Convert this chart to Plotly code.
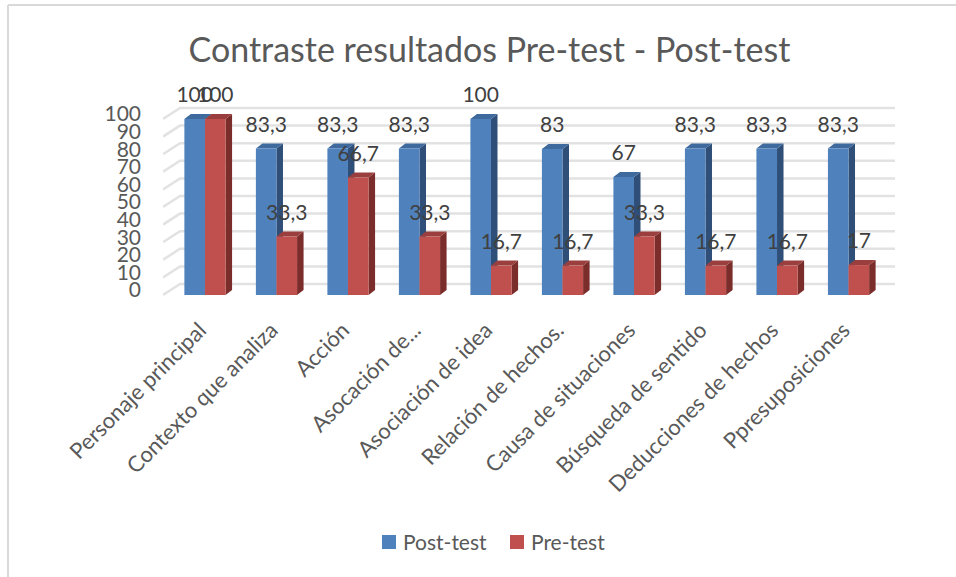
import plotly.graph_objects as go

categories = [
    "Personaje principal", "Contexto que analiza", "Acción", "Asocación de...",
    "Asociación de idea", "Relación de hechos.", "Causa de situaciones",
    "Búsqueda de sentido", "Deducciones de hechos", "Ppresuposiciones",
]
post_test = [100, 83.3, 83.3, 83.3, 100, 83, 67, 83.3, 83.3, 83.3]
pre_test = [100, 33.3, 66.7, 33.3, 16.7, 16.7, 33.3, 16.7, 16.7, 17]
y_ticks = list(range(0, 101, 10))

# fake 3D depth, in axis units
BAR_W = 0.288
DX = 6.5 / 71.5
DY = 5 / 1.76
WALL_DX = 17 / 71.5
WALL_DY = 11 / 1.76
FLOOR_X = -0.587
X_RANGE = [FLOOR_X, 9.65]
Y_RANGE = [-2.84, 110.8]
BLUE, BLUE_SIDE, BLUE_TOP = "#4f81bd", "#2f4f78", "#3f6a9e"
RED, RED_SIDE, RED_TOP = "#c0504d", "#7a2d2b", "#9a3f3d"
TEXT = "#595959"
W, H, L, R, T, B = 956, 577, 163, 61, 100, 277


def label(v):
    return str(v).replace(".", ",")


def faces(values, x0):
    side_x, side_y, top_x, top_y = [], [], [], []
    for i, v in enumerate(values):
        l = i + x0
        r = l + BAR_W
        side_x += [r, r + DX, r + DX, r, r, None]
        side_y += [0, DY, v + DY, v, 0, None]
        top_x += [l, l + DX, r + DX, r, l, None]
        top_y += [v, v + DY, v + DY, v, v, None]
    return side_x, side_y, top_x, top_y


def px_x(p):
    return (p - L) / (W - L - R)


def px_y(p):
    return (H - B - p) / (H - T - B)


fig = go.Figure()

# back wall gridlines with the slanted piece on the left
grid_x, grid_y = [], []
for t in y_ticks:
    grid_x += [FLOOR_X, FLOOR_X + WALL_DX, 9.65, None]
    grid_y += [t, t + WALL_DY, t + WALL_DY, None]
fig.add_trace(go.Scatter(x=grid_x, y=grid_y, mode="lines", showlegend=False, hoverinfo="skip",
                         line=dict(color="#e2e2e2", width=2.5)))

for values, x0, side, top in [(post_test, -BAR_W, BLUE_SIDE, BLUE_TOP), (pre_test, 0, RED_SIDE, RED_TOP)]:
    sx, sy, tx, ty = faces(values, x0)
    fig.add_trace(go.Scatter(x=sx, y=sy, mode="lines", fill="toself", fillcolor=side, line=dict(width=0),
                             showlegend=False, hoverinfo="skip"))
    fig.add_trace(go.Scatter(x=tx, y=ty, mode="lines", fill="toself", fillcolor=top, line=dict(width=0),
                             showlegend=False, hoverinfo="skip"))

# bars and labels sit on an overlay axis pair, otherwise scatter draws over the bars
xs = list(range(len(categories)))
fig.add_trace(go.Bar(x=xs, y=post_test, name="Post-test", width=BAR_W, offset=-BAR_W, marker_color=BLUE,
                     marker_line_width=0, xaxis="x2", yaxis="y2"))
fig.add_trace(go.Bar(x=xs, y=pre_test, name="Pre-test", width=BAR_W, offset=0, marker_color=RED,
                     marker_line_width=0, xaxis="x2", yaxis="y2"))

fig.add_trace(go.Scatter(x=[i - BAR_W / 2 for i in xs], y=[v + 6.5 for v in post_test], mode="text",
                         text=[label(v) for v in post_test], textposition="top center", showlegend=False,
                         textfont=dict(family="Lato", size=21, color="#404040"), hoverinfo="skip",
                         cliponaxis=False, xaxis="x2", yaxis="y2"))
fig.add_trace(go.Scatter(x=[i + BAR_W / 2 for i in xs], y=[v + 6.5 for v in pre_test], mode="text",
                         text=[label(v) for v in pre_test], textposition="top center", showlegend=False,
                         textfont=dict(family="Lato", size=21, color="#404040"), hoverinfo="skip",
                         cliponaxis=False, xaxis="x2", yaxis="y2"))

fig.update_layout(
    xaxis=dict(range=X_RANGE, tickmode="array", tickvals=xs, ticktext=categories, tickangle=-45,
               showgrid=False, zeroline=False, showline=False, ticks="", ticklabelstandoff=12,
               ticklabelshift=-5, tickfont=dict(family="Lato", size=22, color=TEXT)),
    yaxis=dict(range=Y_RANGE, tickmode="array", tickvals=y_ticks, showgrid=False, zeroline=False,
               showline=False, ticks="", ticklabelstandoff=21, ticklabelshift=-5,
               tickfont=dict(family="Lato", size=21, color=TEXT)),
    xaxis2=dict(range=X_RANGE, overlaying="x", visible=False),
    yaxis2=dict(range=Y_RANGE, overlaying="y", visible=False),
)

# chart frame: only left and top edges show
fig.add_shape(type="line", xref="paper", yref="paper", x0=px_x(8), x1=px_x(8), y0=px_y(H), y1=px_y(5),
              line=dict(color="#d9d9d9", width=2), layer="below")
fig.add_shape(type="line", xref="paper", yref="paper", x0=px_x(8), x1=px_x(W), y0=px_y(5), y1=px_y(5),
              line=dict(color="#d9d9d9", width=2), layer="below")

# legend swatches sit closer to their text than plotly's legend allows
for x0, color, name in [(382, BLUE, "Post-test"), (510, RED, "Pre-test")]:
    fig.add_shape(type="rect", xref="paper", yref="paper", x0=px_x(x0), x1=px_x(x0 + 14),
                  y0=px_y(549), y1=px_y(535), fillcolor=color, line=dict(width=0))
    fig.add_annotation(xref="paper", yref="paper", x=px_x(x0 + 19), y=px_y(541), xanchor="left",
                       yanchor="middle", showarrow=False, text=name,
                       font=dict(family="Lato", size=21, color=TEXT))

fig.update_layout(
    width=W,
    height=H,
    margin=dict(l=L, r=R, t=T, b=B),
    barmode="overlay",
    showlegend=False,
    plot_bgcolor="white",
    paper_bgcolor="white",
    title=dict(text="Contraste resultados Pre-test - Post-test", x=0.512, xref="container", xanchor="center",
               y=0.913, yanchor="middle", font=dict(family="Lato", size=34, color=TEXT)),
)

fig.write_html("out.html", config=dict(displayModeBar=False), post_script="document.body.style.margin = '0';")
